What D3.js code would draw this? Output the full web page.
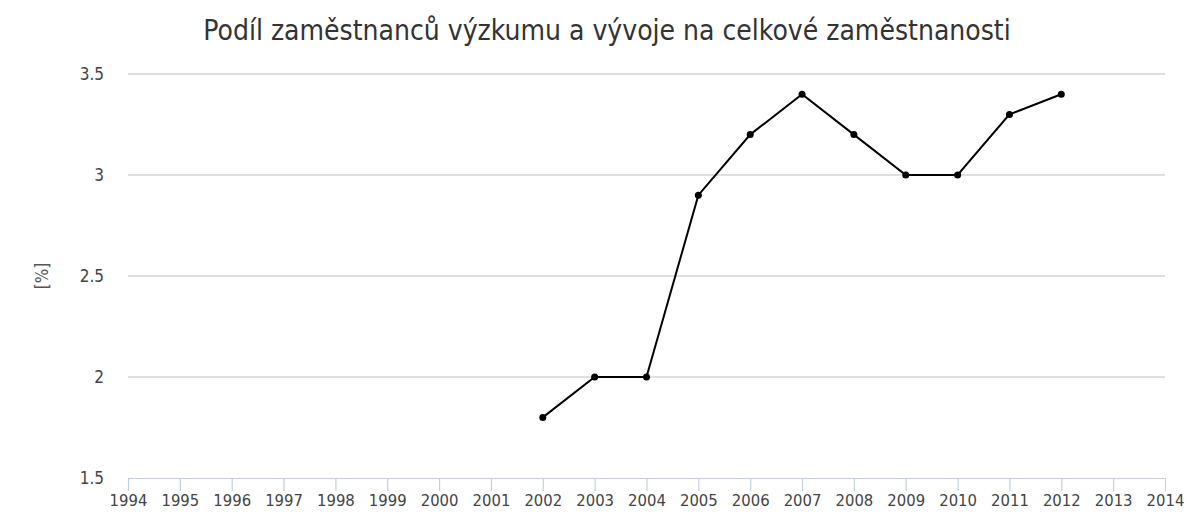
<!DOCTYPE html>
<html>
<head>
<meta charset="utf-8">
<script src="https://cdn.jsdelivr.net/npm/d3@7"></script>
<style>
  body { margin: 0; background: #fff; }
  text { font-family: "DejaVu Sans Condensed", "DejaVu Sans", Verdana, sans-serif; }
</style>
</head>
<body>
<div class="chart"></div>
<script>
// data
var years = [2002, 2003, 2004, 2005, 2006, 2007, 2008, 2009, 2010, 2011, 2012];
var shares = [1.8, 2.0, 2.0, 2.9, 3.2, 3.4, 3.2, 3.0, 3.0, 3.3, 3.4];
var xTicks = d3.range(1994, 2015);
var yTicks = [1.5, 2, 2.5, 3, 3.5];

var svgWidth = 1186;
var svgHeight = 515;

var margin = { top: 74, right: 21, bottom: 37, left: 128 };
var width = svgWidth - margin.left - margin.right;
var height = svgHeight - margin.top - margin.bottom;

var svg = d3
  .select(".chart")
  .append("svg")
  .attr("width", svgWidth)
  .attr("height", svgHeight);

var chartGroup = svg
  .append("g")
  .attr("transform", `translate(${margin.left}, ${margin.top})`);

var xScale = d3.scaleLinear().domain([1994, 2014]).range([0, width]);
var yScale = d3.scaleLinear().domain([1.5, 3.5]).range([height, 0]);

// horizontal grid lines
chartGroup
  .selectAll(".grid")
  .data(yTicks.filter((d) => d > 1.5))
  .enter()
  .append("line")
  .attr("x1", 0)
  .attr("x2", width)
  .attr("y1", (d) => yScale(d))
  .attr("y2", (d) => yScale(d))
  .attr("stroke", "#c0c0c0")
  .attr("stroke-width", 1.2);

// y axis labels (no line)
var leftAxis = d3
  .axisLeft(yScale)
  .tickValues(yTicks)
  .tickSize(0)
  .tickPadding(24)
  .tickFormat((d) => d);
var yAxis = chartGroup.append("g").call(leftAxis);
yAxis.select(".domain").remove();
yAxis
  .selectAll("text")
  .attr("fill", "#444")
  .attr("font-size", "17px");

// x axis
var bottomAxis = d3
  .axisBottom(xScale)
  .tickValues(xTicks)
  .tickSize(13)
  .tickSizeOuter(0)
  .tickPadding(3)
  .tickFormat(d3.format("d"));
var xAxis = chartGroup
  .append("g")
  .attr("transform", `translate(0, ${height})`)
  .call(bottomAxis);
xAxis.select(".domain").attr("stroke", "#c0d0e0").attr("stroke-width", 1.2);
xAxis.selectAll(".tick line").attr("stroke", "#c0d0e0").attr("stroke-width", 1.2);
xAxis
  .selectAll("text")
  .attr("fill", "#444")
  .attr("font-size", "16.5px");

// line
var line = d3
  .line()
  .x((d, i) => xScale(years[i]))
  .y((d) => yScale(d));

chartGroup
  .append("path")
  .datum(shares)
  .attr("d", line)
  .attr("fill", "none")
  .attr("stroke", "#000")
  .attr("stroke-width", 2);

chartGroup
  .selectAll("circle")
  .data(shares)
  .enter()
  .append("circle")
  .attr("cx", (d, i) => xScale(years[i]))
  .attr("cy", (d) => yScale(d))
  .attr("r", 3.5)
  .attr("fill", "#000");

// title
svg
  .append("text")
  .attr("x", 607)
  .attr("y", 40)
  .attr("text-anchor", "middle")
  .attr("font-size", "28px")
  .attr("fill", "#333")
  .text("Podíl zaměstnanců výzkumu a vývoje na celkové zaměstnanosti");

// y axis title
svg
  .append("text")
  .attr("transform", `translate(48, ${margin.top + yScale(2.5)}) rotate(-90)`)
  .attr("text-anchor", "middle")
  .attr("font-size", "17px")
  .attr("fill", "#555")
  .text("[%]");
</script>
</body>
</html>
